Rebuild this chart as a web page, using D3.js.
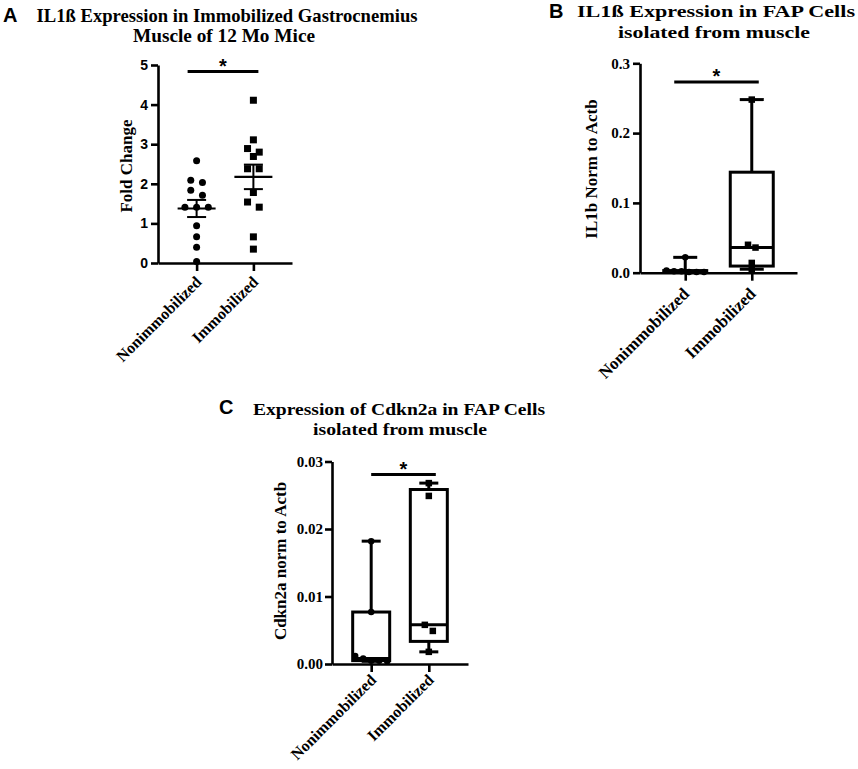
<!DOCTYPE html>
<html><head><meta charset="utf-8">
<script src="https://cdn.jsdelivr.net/npm/d3@7"></script>
<style>body{margin:0;background:#fff}svg{display:block}</style>
</head><body><svg id="c" width="858" height="769"></svg>
<script>
// ---------- DATA ----------
const categories = ["Nonimmobilized", "Immobilized"];
const foldNonimmobilized = [2.58, 2.09, 2.03, 1.84, 1.71, 1.41, 1.41, 1.41, 0.94, 0.66, 0.40, 0.04];
const foldImmobilized = [4.11, 3.11, 2.89, 2.80, 2.69, 2.38, 2.38, 1.78, 1.54, 1.41, 0.66, 0.35];
const foldTicks = [0, 1, 2, 3, 4, 5];
const il1bNonimmobilized = [0.022, 0.003, 0.002, 0.002, 0.001, 0.001, 0.001];
const il1bImmobilized = [0.248, 0.040, 0.036, 0.014, 0.005];
const il1bTicks = [0, 0.1, 0.2, 0.3];
const cdkn2aNonimmobilized = [0.0182, 0.0077, 0.0012, 0.0008, 0.0005, 0.0005, 0.0004];
const cdkn2aImmobilized = [0.0268, 0.0249, 0.0058, 0.0049, 0.0018];
const cdkn2aTicks = [0, 0.01, 0.02, 0.03];
const titleA = ["IL1ß Expression in Immobilized Gastrocnemius", "Muscle of 12 Mo Mice"];
const titleB = ["IL1ß Expression in FAP Cells", "isolated from muscle"];
const titleC = ["Expression of Cdkn2a in FAP Cells", "isolated from muscle"];
const yLabelA = "Fold Change", yLabelB = "IL1b Norm to Actb", yLabelC = "Cdkn2a norm to Actb";
const sigLabel = "*";

// ---------- HELPERS ----------
const SERIF = "'Liberation Serif','Times New Roman',Times,serif";
const SANS = "'Liberation Sans',Arial,Helvetica,sans-serif";
const svg = d3.select("#c");
svg.append("rect").attr("width", 858).attr("height", 769).attr("fill", "#fff");

function quantileGP(sorted, p) {
  const n = sorted.length, pos = (n + 1) * p;
  if (pos <= 1) return sorted[0];
  if (pos >= n) return sorted[n - 1];
  const lo = Math.floor(pos), f = pos - lo;
  return sorted[lo - 1] + f * (sorted[lo] - sorted[lo - 1]);
}
function swarm(values, y, spacing, threshold) {
  const sorted = values.slice().sort((a, b) => b - a);
  const rows = []; let cur = null;
  sorted.forEach(v => {
    if (cur && Math.abs(y(v) - y(cur.anchor)) < threshold) cur.items.push(v);
    else { cur = { anchor: v, items: [v] }; rows.push(cur); }
  });
  const out = [];
  rows.forEach(r => { const n = r.items.length; r.items.forEach((v, i) => out.push({ v, dx: (i - (n - 1) / 2) * spacing })); });
  return out;
}
function marker(g, shape, cx, cy, size) {
  if (shape === "circle") g.append("circle").attr("cx", cx).attr("cy", cy).attr("r", size / 2).attr("fill", "#000");
  else g.append("rect").attr("x", cx - size / 2).attr("y", cy - size / 2).attr("width", size).attr("height", size).attr("fill", "#000");
}
function line(g, x1, y1, x2, y2, w) {
  g.append("line").attr("x1", x1).attr("y1", y1).attr("x2", x2).attr("y2", y2).attr("stroke", "#000").attr("stroke-width", w);
}

function drawPanel(p) {
  const g = svg.append("g");
  const y = d3.scaleLinear().domain([0, p.ticks[p.ticks.length - 1]]).range([p.y0, p.y1]);
  const x = d3.scalePoint().domain(categories).range([p.x0, p.x1]).padding(0.68);

  const ya = g.append("g").attr("transform", `translate(${p.x0},0)`)
    .call(d3.axisLeft(y).tickValues(p.ticks).tickFormat(p.fmt).tickSize(p.tickLen).tickSizeOuter(0).tickPadding(p.tickPad));
  ya.select(".domain").attr("stroke", "#000").attr("stroke-width", 2.6);
  ya.selectAll(".tick line").attr("stroke", "#000").attr("stroke-width", 2.6);
  ya.selectAll(".tick text").attr("font-family", p.tickFont).attr("font-weight", "bold")
    .attr("font-size", p.tickFontSize).attr("fill", "#000");

  const xa = g.append("g").attr("transform", `translate(0,${p.y0})`)
    .call(d3.axisBottom(x).tickSize(8).tickSizeOuter(0).tickFormat(""));
  xa.select(".domain").attr("stroke", "#000").attr("stroke-width", 2.6);
  xa.selectAll(".tick line").attr("stroke", "#000").attr("stroke-width", 2.6);

  categories.forEach(c => {
    g.append("text").attr("transform", `translate(${x(c) + p.lab[0]},${p.y0 + p.lab[1]}) rotate(-45)`)
      .attr("text-anchor", "end").attr("font-family", SERIF).attr("font-weight", "bold")
      .attr("font-size", p.labFontSize).attr("fill", "#000").text(c);
  });

  g.append("text").attr("transform", `translate(${p.ylab[0]},${p.ylab[1]}) rotate(-90)`)
    .attr("text-anchor", "middle").attr("font-family", SERIF).attr("font-weight", "bold")
    .attr("font-size", 17).attr("fill", "#000").text(p.ylabel);

  // significance
  const c1 = x(categories[0]), c2 = x(categories[1]);
  line(g, c1 + p.sig[0], p.sig[2], c2 + p.sig[1], p.sig[2], 3);
  g.append("text").attr("x", (c1 + p.sig[0] + c2 + p.sig[1]) / 2).attr("y", p.sig[2] + 1)
    .attr("text-anchor", "middle").attr("font-family", SANS).attr("font-weight", "bold")
    .attr("font-size", 20).attr("fill", "#000").text(sigLabel);

  const shapes = ["circle", "square"];
  p.series.forEach((vals, i) => {
    const cx = x(categories[i]);
    const sorted = vals.slice().sort((a, b) => a - b);
    if (p.kind === "box") {
      const q1 = quantileGP(sorted, 0.25), med = quantileGP(sorted, 0.5), q3 = quantileGP(sorted, 0.75);
      const mn = sorted[0], mx = sorted[sorted.length - 1];
      line(g, cx, y(q3), cx, y(mx), 3);
      line(g, cx, y(q1), cx, y(mn), 3);
      line(g, cx - p.capW / 2, y(mx), cx + p.capW / 2, y(mx), 3);
      line(g, cx - p.capW / 2, y(mn), cx + p.capW / 2, y(mn), 3);
      g.append("rect").attr("x", cx - p.boxW / 2).attr("y", y(q3)).attr("width", p.boxW)
        .attr("height", Math.max(0, y(q1) - y(q3))).attr("fill", "#fff").attr("stroke", "#000").attr("stroke-width", 3);
      line(g, cx - p.boxW / 2, y(med), cx + p.boxW / 2, y(med), 3);
    } else {
      const m = d3.mean(vals), sem = d3.deviation(vals) / Math.sqrt(vals.length);
      line(g, cx, y(m - sem), cx, y(m + sem), 2);
      line(g, cx - p.meanW / 2, y(m), cx + p.meanW / 2, y(m), 2.2);
      line(g, cx - p.capW / 2, y(m + sem), cx + p.capW / 2, y(m + sem), 2);
      line(g, cx - p.capW / 2, y(m - sem), cx + p.capW / 2, y(m - sem), 2);
    }
    swarm(vals, y, p.spacing, p.threshold).forEach(d => marker(g, shapes[i], cx + d.dx, y(d.v), p.markSize));
  });
}

function drawTitle(letter, lx, ly, lines, cx, ys, lens, fs) {
  svg.append("text").attr("x", lx).attr("y", ly).attr("font-family", SANS).attr("font-weight", "bold")
    .attr("font-size", 20).attr("fill", "#000").text(letter);
  lines.forEach((t, i) => {
    const el = svg.append("text").attr("x", cx[i]).attr("y", ys[i]).attr("text-anchor", "middle")
      .attr("font-family", SERIF).attr("font-weight", "bold").attr("font-size", fs).attr("fill", "#000").text(t);
    if (lens[i]) el.attr("textLength", lens[i]).attr("lengthAdjust", "spacingAndGlyphs");
  });
}

// ---------- PANELS ----------
drawPanel({
  kind: "scatter", series: [foldNonimmobilized, foldImmobilized], ticks: foldTicks, fmt: d3.format("d"),
  x0: 158, x1: 292, y0: 263, y1: 65, tickLen: 7, tickPad: 3, tickFont: SANS, tickFontSize: 14,
  lab: [6, 20], labFontSize: 16, ylab: [132, 166], ylabel: yLabelA,
  sig: [-9, 5, 71.5], spacing: 11.7, threshold: 7, markSize: 7, meanW: 38, capW: 19
});
drawPanel({
  kind: "box", series: [il1bNonimmobilized, il1bImmobilized], ticks: il1bTicks, fmt: d3.format(".1f"),
  x0: 640, x1: 797, y0: 272.7, y1: 63.3, tickLen: 7, tickPad: 3, tickFont: SERIF, tickFontSize: 15,
  lab: [5, 22], labFontSize: 17, ylab: [597, 169], ylabel: yLabelB,
  sig: [-11, 7, 82], spacing: 7.5, threshold: 5, markSize: 6.5, boxW: 43, capW: 24
});
drawPanel({
  kind: "box", series: [cdkn2aNonimmobilized, cdkn2aImmobilized], ticks: cdkn2aTicks, fmt: d3.format(".2f"),
  x0: 332, x1: 468, y0: 664, y1: 461.5, tickLen: 7, tickPad: 2, tickFont: SERIF, tickFontSize: 15,
  lab: [6, 17], labFontSize: 16, ylab: [286, 561], ylabel: yLabelC,
  sig: [0, 7, 474.5], spacing: 8, threshold: 6.5, markSize: 6.5, boxW: 37, capW: 19
});

drawTitle("A", 3, 22, titleA, [227, 224], [22, 42], [381, 182], 19);
drawTitle("B", 549, 18, titleB, [716, 714], [17, 38], [278, 192], 17);
drawTitle("C", 219, 414, titleC, [399, 400], [415, 435], [292, 174], 17.5);
</script></body></html>
